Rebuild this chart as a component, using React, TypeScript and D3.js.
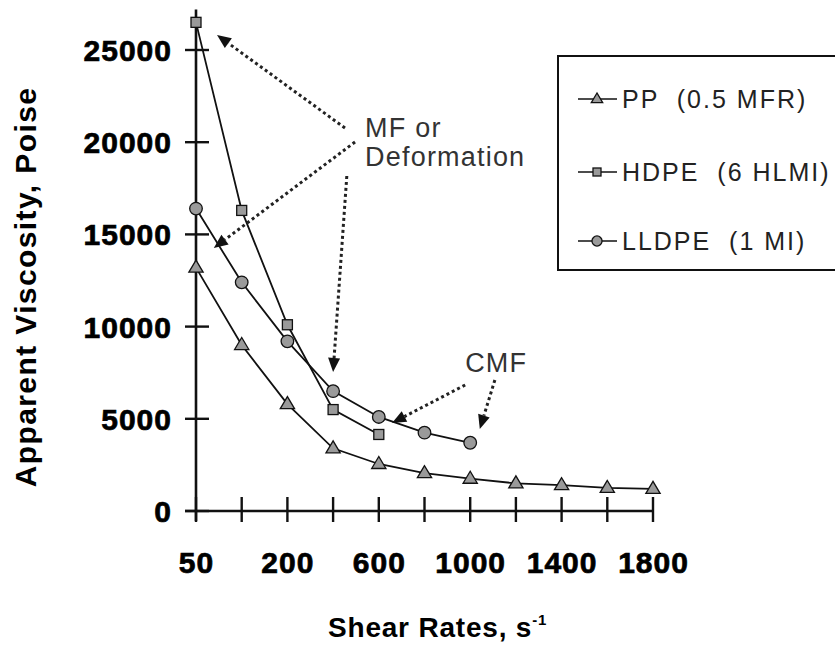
import React from "react";
import * as d3 from "d3";

const width = 835;
const height = 649;

// shear rate categories (evenly spaced on the chart)
const categories = ["50", "100", "200", "400", "600", "800", "1000", "1200", "1400", "1600", "1800"];
const xTickLabels = ["50", "200", "600", "1000", "1400", "1800"];
const yTicks = [0, 5000, 10000, 15000, 20000, 25000];

// apparent viscosity, poise
const ppValues = [13200, 9000, 5800, 3400, 2550, 2050, 1750, 1500, 1400, 1250, 1200];
const hdpeValues = [26500, 16300, 10100, 5500, 4150];
const lldpeValues = [16400, 12400, 9200, 6500, 5100, 4250, 3700];

const seriesNames = ["PP  (0.5 MFR)", "HDPE  (6 HLMI)", "LLDPE  (1 MI)"];
const seriesShapes = ["triangle", "square", "circle"];

// arrows: [fromIndex, fromValue, toIndex, toValue]
const arrows = [
  [3.26, 20770, 0.46, 25814],
  [3.48, 20011, 0.39, 14262],
  [3.3, 18167, 3.0, 7538],
  [5.89, 6833, 4.29, 4772],
  [6.54, 7104, 6.21, 4447],
];

const x = d3.scalePoint().domain(categories).range([196, 653]);
const xi = d3.scaleLinear().domain([0, categories.length - 1]).range([196, 653]);
const y = d3.scaleLinear().domain([0, 25000]).range([511, 50]);

const line = d3
  .line<number>()
  .x((d, i) => x(categories[i]) as number)
  .y((d) => y(d));

const markerFill = "#9a9a9a";
const ink = "#111";

function Marker({ shape, cx, cy, s = 1 }: { shape: string; cx: number; cy: number; s?: number }) {
  if (shape === "triangle") {
    const r = 7.5 * s;
    const pts = [
      [cx, cy - r],
      [cx - r * 0.95, cy + r * 0.6],
      [cx + r * 0.95, cy + r * 0.6],
    ];
    return <polygon points={pts.map((p) => p.join(",")).join(" ")} fill={markerFill} stroke={ink} strokeWidth={1.3} />;
  }
  if (shape === "square") {
    const h = 5 * s;
    return <rect x={cx - h} y={cy - h} width={2 * h} height={2 * h} fill={markerFill} stroke={ink} strokeWidth={1.3} />;
  }
  return <circle cx={cx} cy={cy} r={6.3 * s} fill={markerFill} stroke={ink} strokeWidth={1.3} />;
}

function Arrow({ a }: { a: number[] }) {
  const x1 = xi(a[0]);
  const y1 = y(a[1]);
  const x2 = xi(a[2]);
  const y2 = y(a[3]);
  const ang = Math.atan2(y2 - y1, x2 - x1);
  const len = 14;
  const half = 6;
  const bx = x2 - Math.cos(ang) * len;
  const by = y2 - Math.sin(ang) * len;
  const px = -Math.sin(ang) * half;
  const py = Math.cos(ang) * half;
  return (
    <g>
      <line x1={x1} y1={y1} x2={bx} y2={by} stroke="#222" strokeWidth={3} strokeDasharray="3 3" />
      <polygon points={`${x2},${y2} ${bx + px},${by + py} ${bx - px},${by - py}`} fill="#111" />
    </g>
  );
}

const series = [ppValues, hdpeValues, lldpeValues];

export default function App() {
  const legendRows = [99, 172, 241];
  return (
    <svg
      width={width}
      height={height}
      style={{ position: "absolute", left: 0, top: 0, display: "block", background: "#fff" }}
      fontFamily="'Liberation Sans', Arial, sans-serif"
    >
      {/* axes */}
      <line x1={196} x2={196} y1={y(27200)} y2={521} stroke={ink} strokeWidth={2.6} />
      <line x1={185} x2={653} y1={y(0)} y2={y(0)} stroke={ink} strokeWidth={2.6} />
      {yTicks.map((t) => (
        <g key={t}>
          <line x1={185} x2={209} y1={y(t)} y2={y(t)} stroke={ink} strokeWidth={2.4} />
          <text
            x={172}
            y={y(t) + 11}
            textAnchor="end"
            fontSize={30}
            fontWeight="bold"
            letterSpacing={1}
            stroke="#000"
            strokeWidth={0.7}
          >
            {t}
          </text>
        </g>
      ))}
      {categories.map((c) => (
        <line key={c} x1={x(c)} x2={x(c)} y1={497} y2={522} stroke={ink} strokeWidth={2.4} />
      ))}
      {xTickLabels.map((c) => (
        <text
          key={c}
          x={(x(c) as number) + 0.5}
          y={573}
          textAnchor="middle"
          fontSize={30}
          fontWeight="bold"
          letterSpacing={1}
          stroke="#000"
          strokeWidth={0.7}
        >
          {c}
        </text>
      ))}

      {/* axis titles */}
      <text
        transform="translate(36,287) rotate(-90)"
        textAnchor="middle"
        fontSize={30}
        fontWeight="bold"
        letterSpacing={1.4}
      >
        Apparent Viscosity, Poise
      </text>
      <text x={328} y={637} fontSize={28} fontWeight="bold" letterSpacing={0.8}>
        Shear Rates, s
        <tspan fontSize={15} dy={-12}>-1</tspan>
      </text>

      {/* series lines */}
      {series.map((vals, k) => (
        <path key={k} d={line(vals) as string} fill="none" stroke={ink} strokeWidth={1.8} />
      ))}
      {series.map((vals, k) =>
        vals.map((v, i) => (
          <Marker key={`${k}-${i}`} shape={seriesShapes[k]} cx={x(categories[i]) as number} cy={y(v)} />
        ))
      )}

      {/* annotations */}
      {arrows.map((a, i) => (
        <Arrow key={i} a={a} />
      ))}
      <text x={xi(3.7)} y={y(20282)} fontSize={27} letterSpacing={1.2} fill="#333">
        MF or
      </text>
      <text x={xi(3.7)} y={y(20282) + 29} fontSize={27} letterSpacing={1.2} fill="#333">
        Deformation
      </text>
      <text x={xi(5.89)} y={y(7538)} fontSize={27} letterSpacing={1.2} fill="#333">
        CMF
      </text>

      {/* legend */}
      <rect x={558} y={56} width={300} height={214} fill="none" stroke={ink} strokeWidth={2} />
      {seriesNames.map((n, k) => (
        <g key={n}>
          <line x1={578} x2={617} y1={legendRows[k]} y2={legendRows[k]} stroke={ink} strokeWidth={1.6} />
          <Marker shape={seriesShapes[k]} cx={597} cy={legendRows[k]} s={0.8} />
          <text x={622} y={legendRows[k] + 9} fontSize={25} letterSpacing={2} fill="#222" style={{ whiteSpace: "pre" }}>
            {n}
          </text>
        </g>
      ))}
    </svg>
  );
}
